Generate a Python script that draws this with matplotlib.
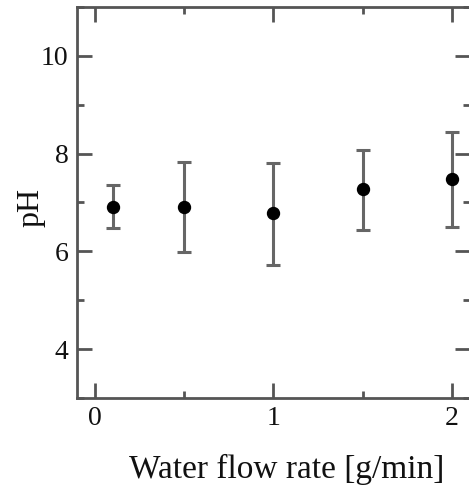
import matplotlib
matplotlib.use("Agg")
import matplotlib.pyplot as plt
from matplotlib.ticker import MultipleLocator

# water flow rate [g/min] and measured pH
flow_rate = [0.1, 0.5, 1.0, 1.5, 2.0]
ph_mean = [6.91, 6.91, 6.78, 7.28, 7.48]
ph_upper = [7.35, 7.82, 7.80, 8.08, 8.43]
ph_lower = [6.47, 5.99, 5.72, 6.44, 6.50]

err_low = [m - lo for m, lo in zip(ph_mean, ph_lower)]
err_high = [hi - m for m, hi in zip(ph_mean, ph_upper)]

plt.rcParams["font.family"] = ["Liberation Serif", "DejaVu Serif"]
spine_color = "#555555"

fig = plt.figure(figsize=(4.69, 4.86), dpi=100)
ax = fig.add_axes([0.164, 0.181, 0.838, 0.805])

ax.errorbar(flow_rate, ph_mean, yerr=[err_low, err_high], fmt="o",
            color="black", ms=8.6, ecolor="#666666", elinewidth=2.2,
            capsize=4.8, capthick=2.2, zorder=3)

ax.set_xlim(-0.1, 2.1)
ax.set_ylim(3, 11)
ax.xaxis.set_major_locator(MultipleLocator(1))
ax.xaxis.set_minor_locator(MultipleLocator(0.5))
ax.yaxis.set_minor_locator(MultipleLocator(1))
ax.set_yticks([4, 6, 8, 10])

for s in ax.spines.values():
    s.set_color(spine_color)
    s.set_linewidth(2)

ax.tick_params(which="both", direction="in", top=True, right=True,
               color=spine_color, width=2, labelsize=20, labelcolor="#111111")
ax.tick_params(which="major", length=11, pad=6)
ax.tick_params(which="minor", length=5)

ax.set_xlabel("Water flow rate [g/min]", fontsize=24, color="#111111", va="center")
ax.set_ylabel("pH", fontsize=23, color="#111111", va="center")
ax.xaxis.set_label_coords(0.534, -0.182)
ax.yaxis.set_label_coords(-0.117, 0.488)

fig.savefig("out.png", dpi=100)
